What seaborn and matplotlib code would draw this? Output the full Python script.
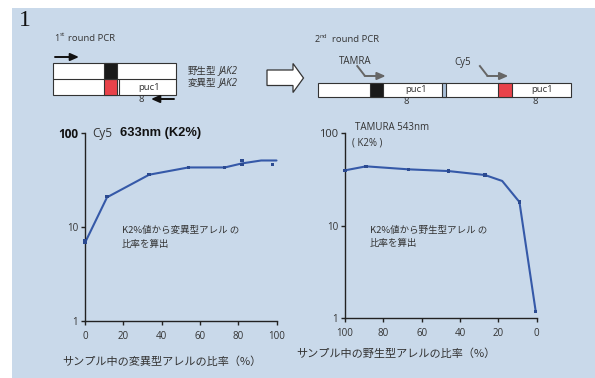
import matplotlib
matplotlib.use("Agg")
import matplotlib.pyplot as plt
import seaborn as sns
from matplotlib.patches import Rectangle, Polygon
from matplotlib.ticker import NullLocator

# ---- data -------------------------------------------------------------
# Cy5 633nm: K2% vs. fraction of mutant allele in sample
mut_line_x = [0, 11.5, 33.5, 54, 73, 82, 92, 100]
mut_line_k2 = [6.8, 20.7, 36, 43, 43, 47.5, 51, 51]
mut_pts_x = [0, 0, 11.5, 33.5, 54, 73, 82, 82, 98]
mut_pts_k2 = [6.8, 7.2, 21, 36, 43, 43, 51, 46, 46.5]

# TAMRA 543nm: K2% vs. fraction of wild-type allele in sample
wt_line_x = [100, 89, 67, 46, 27, 18, 9, 0.5]
wt_line_k2 = [39.3, 43.4, 40.3, 38.6, 35, 30.2, 17.9, 1.18]
wt_pts_x = [100, 89, 67, 46, 27, 9, 0.5]
wt_pts_k2 = [39.3, 43.4, 40.3, 38.6, 35, 17.9, 1.18]

x_ticks = [0, 20, 40, 60, 80, 100]
y_ticks = [1, 10, 100]
y_tick_labels = ["1", "10", "100"]

# ---- style ------------------------------------------------------------
sns.set_style("ticks")
plt.rcParams["font.family"] = ["Open Sans", "Noto Sans CJK JP", "DejaVu Sans"]
JP = ["Noto Sans CJK JP", "DejaVu Sans"]

PANEL = "#c9d9ea"
BLUE = "#3559a8"
DOT = "#2b4a90"
INK = "#222222"
TXT = "#333333"
GREY_ARROW = "#666666"
RED = "#e8424a"

W, H = 595, 378
fig = plt.figure(figsize=(W / 100, H / 100), dpi=100)
fig.patch.set_facecolor("white")

# overlay in pixel units for the panel and the schematic
ov = fig.add_axes([0, 0, 1, 1])
ov.set_xlim(0, W)
ov.set_ylim(H, 0)
ov.axis("off")
ov.add_patch(Rectangle((12, 8), W - 12, H - 8, facecolor=PANEL, edgecolor="none"))


def pax(l, t, r, b):
    return fig.add_axes([l / W, 1 - b / H, (r - l) / W, (b - t) / H])


axL = pax(85, 133, 276.5, 321)
axR = pax(345, 132.7, 536.7, 318.3)

# ---- curves -----------------------------------------------------------
sns.lineplot(x=mut_line_x, y=mut_line_k2, ax=axL, color=BLUE, lw=1.5,
             sort=False, estimator=None, clip_on=False)
sns.scatterplot(x=mut_pts_x, y=mut_pts_k2, ax=axL, marker="s", s=6,
                color=DOT, edgecolor="none", zorder=3, clip_on=False)

sns.lineplot(x=wt_line_x, y=wt_line_k2, ax=axR, color=BLUE, lw=1.5,
             sort=False, estimator=None, clip_on=False)
sns.scatterplot(x=wt_pts_x, y=wt_pts_k2, ax=axR, marker="s", s=6,
                color=DOT, edgecolor="none", zorder=3, clip_on=False)

for ax in (axL, axR):
    ax.set_facecolor("none")
    ax.set_yscale("log")
    ax.set_ylim(1, 100)
    ax.set_yticks(y_ticks, labels=y_tick_labels)
    ax.set_xticks(x_ticks, labels=[str(v) for v in x_ticks])
    ax.yaxis.set_minor_locator(NullLocator())
    sns.despine(ax=ax)
    for s in ("left", "bottom"):
        ax.spines[s].set_color(INK)
        ax.spines[s].set_linewidth(1.0)
    ax.tick_params(axis="both", which="major", length=3, width=1.0,
                   color=INK, labelsize=7, labelcolor=TXT, pad=2)
    ax.tick_params(axis="x", pad=4)
    ax.set_xlabel("")
    ax.set_ylabel("")

axL.set_xlim(0, 100)
axR.set_xlim(100, 0)

top = axL.get_yticklabels()[-1]
top.set_fontweight("bold")
top.set_fontsize(8.5)
top.set_color("#111111")
axR.get_yticklabels()[-1].set_fontsize(8)

# ---- plot titles and notes -------------------------------------------
ov.text(92, 133, "Cy5", fontsize=8.5, color=TXT, va="center", ha="left")
ov.text(120, 133, "633nm (K2%)", fontsize=9.3, fontweight="bold",
        family="Liberation Sans", color="#111111", va="center", ha="left")
ov.text(355, 127, "TAMURA 543nm", fontsize=7, color=TXT, va="center", ha="left")
ov.text(352, 143, "( K2% )", fontsize=7, color=TXT, va="center", ha="left")

ov.text(121.5, 230, "K2%値から変異型アレル の", family=JP, fontsize=6.8,
        color=TXT, va="center", ha="left")
ov.text(121.5, 244, "比率を算出", family=JP, fontsize=6.8,
        color=TXT, va="center", ha="left")
ov.text(370, 230, "K2%値から野生型アレル の", family=JP, fontsize=6.8,
        color=TXT, va="center", ha="left")
ov.text(370, 243, "比率を算出", family=JP, fontsize=6.8,
        color=TXT, va="center", ha="left")

ov.text(161.5, 361.5, "サンプル中の変異型アレルの比率（%）", family=JP,
        fontsize=8, color=TXT, va="center", ha="center")
ov.text(396, 354, "サンプル中の野生型アレルの比率（%）", family=JP,
        fontsize=8, color=TXT, va="center", ha="center")

# ---- schematic: first round ------------------------------------------
ov.text(25, 21, "1", family="Liberation Serif", fontsize=17, color="#111111",
        va="center", ha="center")
ov.text(54.5, 38.5, "1", fontsize=6.5, color=TXT, va="center", ha="left")
ov.text(59.5, 35, "st", fontsize=4.5, color=TXT, va="center", ha="left")
ov.text(68, 38.5, "round PCR", fontsize=6.8, color=TXT, va="center", ha="left")

box_kw = dict(edgecolor="#333333", linewidth=0.8)
ov.add_patch(Rectangle((53, 63), 123, 32, facecolor="white", **box_kw))
ov.plot([53, 176], [79, 79], color="#333333", lw=0.8)
ov.add_patch(Rectangle((104, 63), 12.7, 16, facecolor="#1a1a1a", **box_kw))
ov.add_patch(Rectangle((104, 79), 12.7, 16, facecolor=RED, **box_kw))
ov.plot([118.7, 118.7], [79, 95], color="#333333", lw=0.8)
ov.text(149, 87, "puc1", fontsize=6.8, color=TXT, va="center", ha="center")
ov.text(141, 99.5, "8", fontsize=6.8, color=TXT, va="center", ha="center")

arrow_k = dict(arrowstyle="-|>,head_length=0.5,head_width=0.22",
               color="#111111", lw=1.4, shrinkA=0, shrinkB=0)
ov.annotate("", xy=(79, 57), xytext=(55, 57), arrowprops=arrow_k)
ov.annotate("", xy=(151, 99), xytext=(174, 99), arrowprops=arrow_k)

ov.text(188, 71, "野生型", family=JP, fontsize=6.8, color=TXT, va="center", ha="left")
ov.text(218.5, 71, "JAK2", fontsize=7, style="italic", color=TXT,
        va="center", ha="left")
ov.text(188, 83, "変異型", family=JP, fontsize=6.8, color=TXT, va="center", ha="left")
ov.text(218.5, 83, "JAK2", fontsize=7, style="italic", color=TXT,
        va="center", ha="left")

# hollow block arrow between the two stages
ov.add_patch(Polygon([(267, 70), (293, 70), (293, 63.5), (303.5, 78),
                      (293, 92.5), (293, 85.5), (267, 85.5)],
                     closed=True, facecolor="white", edgecolor="#333333",
                     linewidth=0.9))

# ---- schematic: second round -----------------------------------------
ov.text(314.5, 39.5, "2", fontsize=6.5, color=TXT, va="center", ha="left")
ov.text(319, 36, "nd", fontsize=4.5, color=TXT, va="center", ha="left")
ov.text(331.5, 39.5, "round PCR", fontsize=6.8, color=TXT, va="center", ha="left")

ov.add_patch(Rectangle((318.3, 82.7), 252.7, 14, facecolor="white", **box_kw))
ov.add_patch(Rectangle((370, 82.7), 13.3, 14, facecolor="#1a1a1a", **box_kw))
ov.add_patch(Rectangle((498.3, 82.7), 13.4, 14, facecolor=RED, **box_kw))
ov.add_patch(Rectangle((442, 82.7), 3.8, 14, facecolor="#a9bfd8", **box_kw))
ov.text(416, 89.5, "puc1", fontsize=6.8, color=TXT, va="center", ha="center")
ov.text(542, 89.5, "puc1", fontsize=6.8, color=TXT, va="center", ha="center")
ov.text(406.7, 101.5, "8", fontsize=6.8, color=TXT, va="center", ha="center")
ov.text(535, 101.5, "8", fontsize=6.8, color=TXT, va="center", ha="center")

ov.text(355, 62, "TAMRA", fontsize=7, color=TXT, va="center", ha="center")
ov.text(463, 62, "Cy5", fontsize=7, color=TXT, va="center", ha="center")

arrow_g = dict(arrowstyle="-|>,head_length=0.5,head_width=0.22",
               color=GREY_ARROW, lw=1.4, shrinkA=0, shrinkB=0)
for x0 in (356.7, 479.3):
    ov.plot([x0, x0 + 8.3], [65.3, 76], color=GREY_ARROW, lw=1.4,
            solid_capstyle="butt")
    ov.annotate("", xy=(x0 + 29, 76), xytext=(x0 + 8.0, 76),
                arrowprops=arrow_g)

fig.savefig("out.png", dpi=100, facecolor=fig.get_facecolor())
